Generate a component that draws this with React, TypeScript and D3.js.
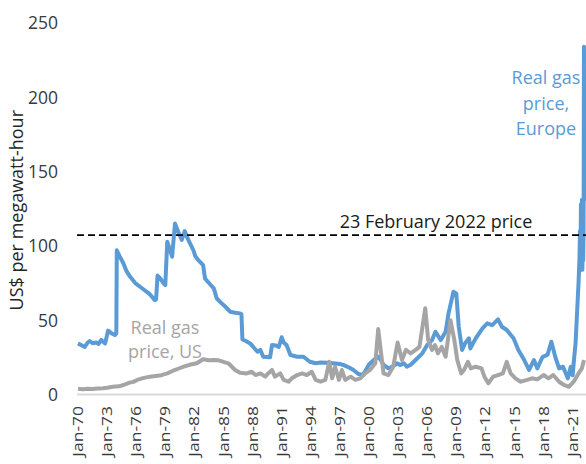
import React from "react";
import * as d3 from "d3";

// ---------- data ----------
const europeYears = [
  1970.0, 1970.4, 1970.7, 1971.0, 1971.2, 1971.5, 1971.9, 1972.1, 1972.4, 1972.8,
  1973.1, 1973.5, 1973.8, 1973.95, 1974.0, 1974.3, 1974.7, 1975.0, 1975.4, 1975.9,
  1976.4, 1976.9, 1977.3, 1977.6, 1977.9, 1978.05, 1978.2, 1978.5, 1978.8, 1979.0,
  1979.2, 1979.5, 1979.7, 1980.0, 1980.3, 1980.7, 1981.0, 1981.3, 1981.6, 1981.9,
  1982.1, 1982.4, 1982.9, 1983.1, 1983.5, 1984.0, 1984.3, 1984.7, 1985.2, 1985.7,
  1986.2, 1986.7, 1986.85, 1986.95, 1987.3, 1987.75, 1988.2, 1988.5, 1988.8, 1989.1,
  1989.8, 1990.0, 1990.4, 1990.7, 1991.0, 1991.2, 1991.5, 1991.9, 1992.6, 1993.25,
  1993.9, 1994.5, 1995.0, 1995.7, 1996.3, 1997.0, 1997.4, 1998.0, 1998.4, 1998.9,
  1999.4, 1999.95, 2000.5, 2001.0, 2001.5, 2002.0, 2002.5, 2002.9, 2003.2, 2003.6,
  2003.9, 2004.3, 2004.8, 2005.5, 2006.0, 2006.5, 2006.85, 2007.4, 2007.9, 2008.2,
  2008.7, 2009.0, 2009.25, 2009.6, 2009.9, 2010.3, 2010.45, 2011.0, 2011.7, 2012.2,
  2012.7, 2013.3, 2013.7, 2014.2, 2014.9, 2015.4, 2016.0, 2016.5, 2017.0, 2017.35,
  2017.9, 2018.4, 2018.8, 2019.2, 2019.6, 2020.0, 2020.5, 2020.8, 2021.0, 2021.1,
  2021.3, 2021.45, 2021.6, 2021.7, 2021.75, 2021.8, 2021.85, 2021.9, 2021.95, 2022.0,
  2022.05, 2022.08, 2022.12, 2022.16, 2022.18,
];
const europeValues = [
  34.4, 33, 32, 35, 36, 34.5, 35, 34, 36.7, 34.4,
  43, 41, 40, 41, 97, 93, 88, 83, 79, 75,
  72.5, 70, 68, 66, 63.5, 64, 80, 78, 75, 73.6,
  102.8, 97, 92.7, 115, 110, 104, 110, 105, 101, 97,
  93, 90.4, 87, 78, 75, 71.4, 64.7, 62, 59, 55.7,
  55, 54.6, 54, 37, 36, 34.4, 31, 28.8, 30, 25.4,
  25, 33.3, 33, 32, 38.5, 35, 33.3, 26.6, 25.4, 25.4,
  22, 21, 21.5, 21.4, 21, 20.5, 19.8, 18, 16.5, 13.8,
  13.1, 19.8, 23.2, 25.4, 20, 17.6, 19, 21, 19.8, 21,
  18.7, 20, 23.2, 27.7, 33.3, 36.6, 42.2, 36.6, 42.2, 54.6,
  69.1, 68, 45.6, 30, 34.4, 37.8, 31, 37.8, 44.5, 47.9,
  46.7, 50.6, 45.6, 43.4, 37.8, 30, 23.2, 16.5, 23.2, 17.6,
  25.4, 26.6, 35.5, 25.4, 17.6, 18.7, 10.9, 18.7, 13, 21,
  35, 55, 75, 92, 110, 86, 128, 95, 131, 84,
  118, 90, 107, 234, 130,
];

const usYears = [
  1970.0, 1970.5, 1971.0, 1971.5, 1972.0, 1972.6, 1973.0, 1973.6, 1974.2, 1974.7,
  1975.3, 1975.7, 1976.1, 1976.7, 1977.4, 1978.0, 1978.6, 1979.2, 1979.8, 1980.4,
  1980.9, 1981.5, 1982.25, 1982.9, 1983.5, 1984.0, 1984.5, 1985.0, 1985.5, 1986.2,
  1986.7, 1987.4, 1987.9, 1988.3, 1988.8, 1989.3, 1989.6, 1990.0, 1990.3, 1990.85,
  1991.2, 1991.7, 1992.05, 1992.6, 1993.1, 1993.6, 1994.1, 1994.5, 1995.0, 1995.5,
  1995.9, 1996.2, 1996.5, 1996.9, 1997.2, 1997.55, 1998.1, 1998.6, 1999.1, 1999.6,
  2000.1, 2000.65, 2000.95, 2001.5, 2002.0, 2002.5, 2002.95, 2003.4,
  2003.8, 2004.3, 2004.8, 2005.2, 2005.8, 2006.1, 2006.5, 2006.8, 2007.1, 2007.5,
  2007.9, 2008.4, 2008.8, 2009.1, 2009.5, 2009.8, 2010.2, 2010.5, 2011.0, 2011.6,
  2011.9, 2012.3, 2012.8, 2013.3, 2013.8, 2014.2, 2014.6, 2015.1, 2015.6, 2016.3,
  2016.8, 2017.35, 2018.0, 2018.5, 2019.0, 2019.6, 2020.1, 2020.6, 2021.1, 2021.6,
  2021.95, 2022.16,
];
const usValues = [
  3.8, 3.5, 3.8, 3.7, 4, 4.2, 4.5, 5.2, 5.5, 6.4,
  8, 8.5, 9.8, 11, 12, 12.5, 13, 14.2, 16, 17.5,
  18.7, 20, 21, 23.7, 23, 23.2, 23, 22, 21, 16.5,
  14.7, 14.2, 15.3, 13.1, 14.2, 12, 14.2, 16.5, 12, 14.2,
  9.8, 8.6, 10.9, 13.1, 14.2, 13.1, 15.3, 9.8, 8.6, 9.8,
  22, 10.9, 18.7, 9.8, 16.5, 9.8, 12, 9.8, 10.9, 14.2,
  16.5, 21, 44, 14.2, 13.1, 18.7, 35, 23.2,
  30, 27.7, 30, 32, 58, 36.6, 30, 33.3, 27.7, 32,
  25.4, 50, 36.6, 23.2, 14.2, 16.5, 22, 17.6, 18.7, 17.6,
  12, 7.5, 12, 13.1, 14.2, 22, 14.2, 10.9, 8.6, 9.8,
  10.9, 10.2, 13.1, 10.9, 13.1, 8.6, 6.4, 5.2, 8.6, 14.2,
  17.6, 23.2,
];

const feb2022Price = 107.3;
const yTicks = [0, 50, 100, 150, 200, 250];
const xTickYears = [1970, 1973, 1976, 1979, 1982, 1985, 1988, 1991, 1994, 1997, 2000, 2003, 2006, 2009, 2012, 2015, 2018, 2021];
const xTickLabels = ["Jan-70", "Jan-73", "Jan-76", "Jan-79", "Jan-82", "Jan-85", "Jan-88", "Jan-91", "Jan-94", "Jan-97", "Jan-00", "Jan-03", "Jan-06", "Jan-09", "Jan-12", "Jan-15", "Jan-18", "Jan-21"];

const BLUE = "#5b9bd5";
const GREY = "#a5a5a5";
const FONT = "'Open Sans', sans-serif";

export default function App() {
  const W = 586;
  const H = 464;
  const x = d3.scaleLinear().domain([1970, 2021]).range([78, 572.7]);
  const y = d3.scaleLinear().domain([0, 250]).range([394.5, 23]);

  const line = d3
    .line<[number, number]>()
    .x((d) => x(d[0]))
    .y((d) => y(d[1]));

  const europe = europeYears.map((t, i) => [t, europeValues[i]] as [number, number]);
  const us = usYears.map((t, i) => [t, usValues[i]] as [number, number]);

  return (
    <svg
      width={W}
      height={H}
      style={{ position: "absolute", left: 0, top: 0, background: "#fff" }}
      fontFamily={FONT}
    >
      {/* baseline axis */}
      <line x1={x(1970) - 1} x2={W} y1={y(0)} y2={y(0)} stroke="#d9d9d9" strokeWidth={2} />

      {/* y tick labels */}
      {yTicks.map((t) => (
        <text key={t} x={58} y={y(t)} dy="0.36em" textAnchor="end" fontSize={17.5} fill="#3a3a3a">
          {t}
        </text>
      ))}

      {/* y axis title */}
      <text
        transform={`translate(17,${y(124)}) rotate(-90)`}
        textAnchor="middle"
        dy="0.36em"
        fontSize={18}
        fill="#262626"
      >
        US$ per megawatt-hour
      </text>

      {/* x tick labels */}
      {xTickYears.map((yr, i) => (
        <text
          key={yr}
          transform={`translate(${x(yr)},406) rotate(-90) scale(1.25,1)`}
          textAnchor="end"
          dy="0.36em"
          fontSize={14}
          fill="#3a3a3a"
        >
          {xTickLabels[i]}
        </text>
      ))}

      {/* series */}
      <path d={line(europe) || ""} fill="none" stroke={BLUE} strokeWidth={4} strokeLinejoin="round" />
      <path d={line(us) || ""} fill="none" stroke={GREY} strokeWidth={4} strokeLinejoin="round" />

      {/* 23 Feb 2022 reference line */}
      <line
        x1={x(1970) - 1}
        x2={W}
        y1={y(feb2022Price)}
        y2={y(feb2022Price)}
        stroke="#000"
        strokeWidth={1.8}
        strokeDasharray="7,4"
      />
      <text x={436} y={228} textAnchor="middle" fontSize={18} fill="#1a1a1a">
        23 February 2022 price
      </text>

      {/* annotations */}
      <text textAnchor="middle" fontSize={18} fill={GREY}>
        <tspan x={165} y={334}>Real gas</tspan>
        <tspan x={165} y={358}>price, US</tspan>
      </text>
      <text textAnchor="middle" fontSize={18} fill={BLUE}>
        <tspan x={546} y={84}>Real gas</tspan>
        <tspan x={546} y={109.5}>price,</tspan>
        <tspan x={546} y={135}>Europe</tspan>
      </text>
    </svg>
  );
}
